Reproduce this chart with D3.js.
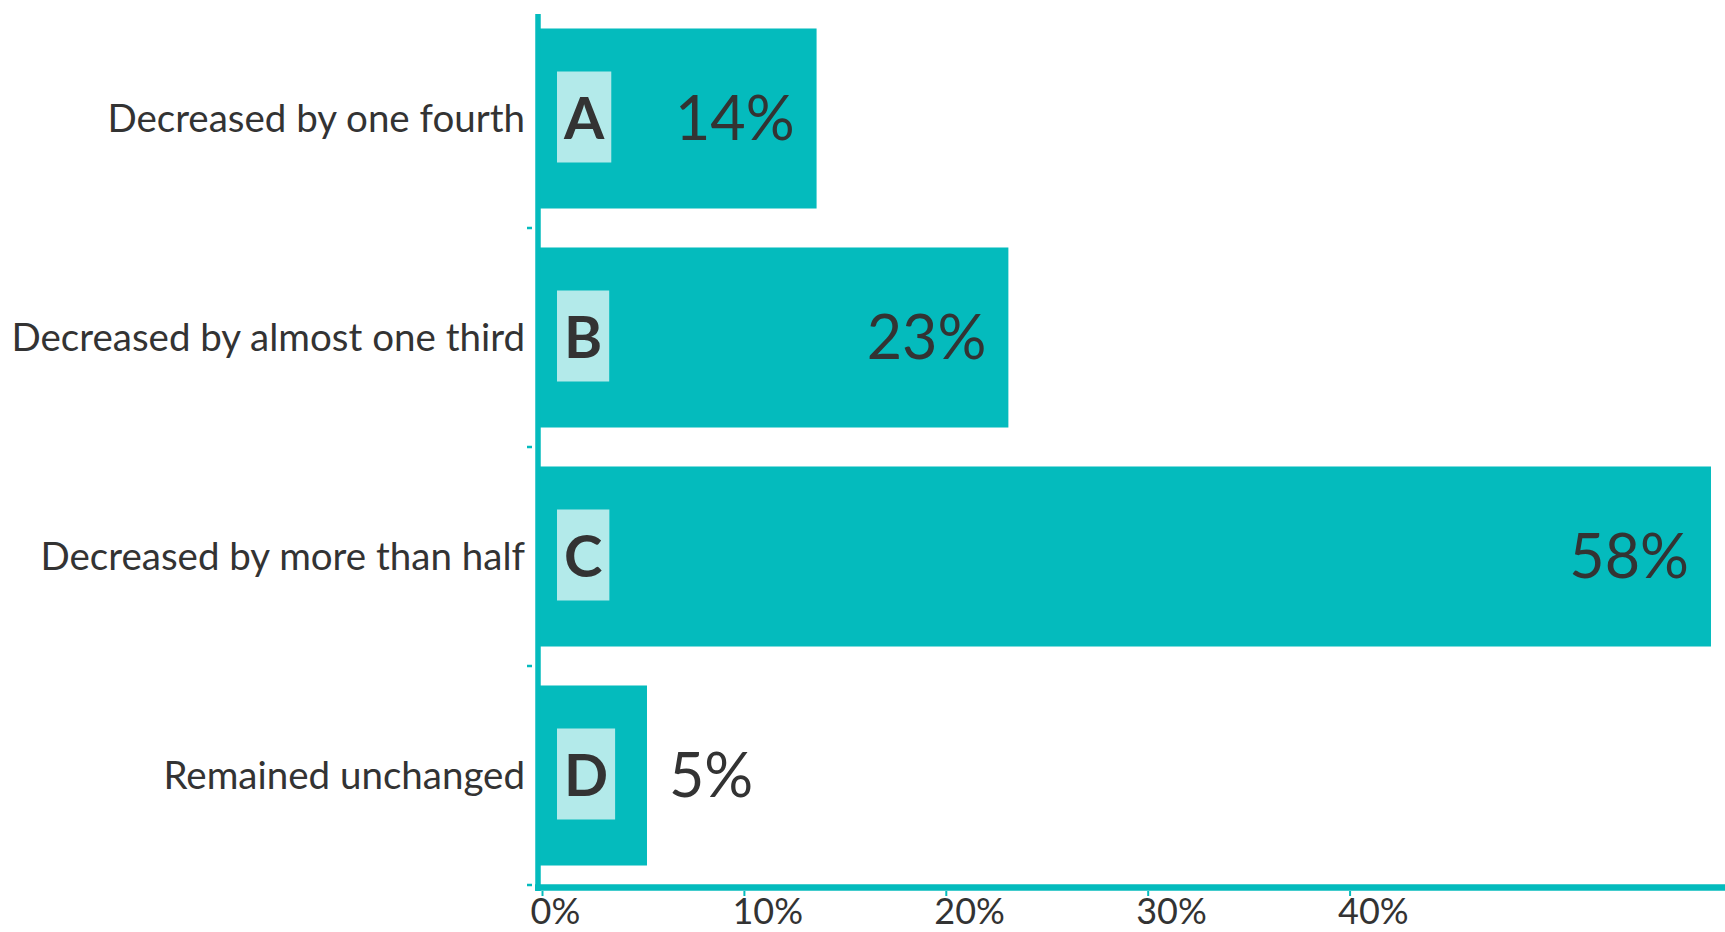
<!DOCTYPE html>
<head>
   <meta charset="utf-8">
   <script src="https://d3js.org/d3.v7.min.js"></script>
   <style>
   body{
       margin: 0;
       background: #ffffff;
   }
   text{
      font-family: "Source Sans Pro", Lato, sans-serif;
      fill: #333333;
   }
   text.catLabel{
      font-size: 38.5px;
   }
   text.valueLabel{
      font-size: 61px;
   }
   text.letter{
      font-size: 58px;
      font-weight: 700;
   }
   .xAxis .tick text{
      font-size: 36px;
   }
   </style>
</head>

<body>
   <script>
const width  = 1725;
const height = 932;

const teal      = '#04bbbd';
const lightTeal = '#b3eaea';

// data
const categories = ['Decreased by one fourth', 'Decreased by almost one third', 'Decreased by more than half', 'Remained unchanged'];
const letters    = ['A', 'B', 'C', 'D'];
const values     = [13.6, 23.1, 57.9, 5.2];
const labels     = ['14%', '23%', '58%', '5%'];
const tickValues = [0, 10, 20, 30, 40];

const data = categories.map((c, i) => ({
   name  : c,
   letter: letters[i],
   value : values[i],
   label : labels[i]
}));

const svg = d3.select('body').append('svg')
   .attr('width', width)
   .attr('height', height);

const x = d3.scaleLinear()
   .domain([0, 58])
   .range([542, 1713]);

const y = d3.scaleBand()
   .domain(categories)
   .range([9, 885])
   .paddingInner(0.178)
   .paddingOuter(0.089);

const step = y.step();
const gap  = y.paddingInner() * step;

// bars
svg.selectAll('rect.bar')
   .data(data)
   .enter()
   .append('rect')
   .attr('class', 'bar')
   .attr('x', x(0)-2)
   .attr('y', d => y(d.name))
   .attr('width', d => x(d.value)-x(0)+2)
   .attr('height', y.bandwidth())
   .style('fill', teal);

// letter boxes
const letterG = svg.selectAll('g.letterBox')
   .data(data)
   .enter()
   .append('g')
   .attr('class', 'letterBox');

const boxes = letterG.append('rect')
   .style('fill', lightTeal);

const letterText = letterG.append('text')
   .attr('class', 'letter')
   .attr('y', d => y(d.name)+y.bandwidth()/2)
   .attr('dy', '0.36em')
   .style('text-anchor', 'middle')
   .text(d => d.letter);

letterText.each(function(d){
   const w = this.getComputedTextLength();
   const boxW = w + 14;
   d.boxX = x(0)+15;
   d.boxW = boxW;
   d3.select(this).attr('x', d.boxX + boxW/2);
});

boxes
   .attr('x', d => d.boxX)
   .attr('y', d => y(d.name)+y.bandwidth()/2-47)
   .attr('width', d => d.boxW)
   .attr('height', 91);

// value labels
svg.selectAll('text.valueLabel')
   .data(data)
   .enter()
   .append('text')
   .attr('class', 'valueLabel')
   .attr('x', d => d.value>=10 ? x(d.value)-22 : x(d.value)+22)
   .attr('y', d => y(d.name)+y.bandwidth()/2)
   .attr('dy', '0.36em')
   .style('text-anchor', d => d.value>=10 ? 'end' : 'start')
   .text(d => d.label);

// category labels
svg.selectAll('text.catLabel')
   .data(data)
   .enter()
   .append('text')
   .attr('class', 'catLabel')
   .attr('x', 525)
   .attr('y', d => y(d.name)+y.bandwidth()/2)
   .attr('dy', '0.36em')
   .style('text-anchor', 'end')
   .text(d => d.name);

// y axis line + ticks between bands
const yBottom = y.range()[1];
svg.append('line')
   .attr('x1', 538).attr('x2', 538)
   .attr('y1', y.range()[0]+5)
   .attr('y2', yBottom+6)
   .style('stroke', teal)
   .style('stroke-width', 5.5);

svg.selectAll('line.yTick')
   .data(categories)
   .enter()
   .append('line')
   .attr('class', 'yTick')
   .attr('x1', 527).attr('x2', 532)
   .attr('y1', d => y(d)+y.bandwidth()+gap/2)
   .attr('y2', d => y(d)+y.bandwidth()+gap/2)
   .style('stroke', teal)
   .style('stroke-width', 2.5);

// x axis
const xAxis = d3.axisBottom(x)
   .tickValues(tickValues)
   .tickSize(5)
   .tickFormat(d => d + '%');

const xg = svg.append('g')
   .attr('class', 'axis xAxis')
   .attr('transform', `translate(0, ${yBottom+6})`)
   .call(xAxis);

xg.select('.domain').remove();
xg.selectAll('.tick line')
   .style('stroke', teal)
   .style('stroke-width', 2);
xg.selectAll('.tick text')
   .attr('x', -12)
   .attr('y', 7)
   .attr('dy', '0.71em')
   .style('text-anchor', 'start')
   .style('fill', '#333333');

svg.append('line')
   .attr('x1', 535).attr('x2', width)
   .attr('y1', yBottom+2.5).attr('y2', yBottom+2.5)
   .style('stroke', teal)
   .style('stroke-width', 6.5);

   </script>
</body>
